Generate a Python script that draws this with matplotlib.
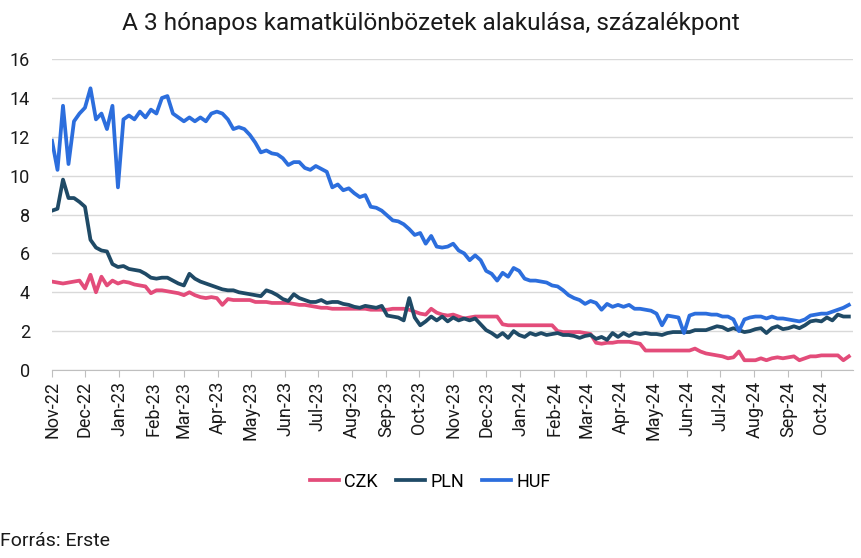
import matplotlib
matplotlib.use("Agg")
import matplotlib.pyplot as plt
import matplotlib.dates as mdates
import pandas as pd

# 5-day sampled readings, Nov 2022 - Oct 2024
dates = pd.date_range("2022-11-01", periods=146, freq="5D")

huf = [
    11.8, 10.3, 13.6, 10.6, 12.8, 13.2, 13.5, 14.5, 12.9, 13.2,
    12.4, 13.6, 9.4, 12.9, 13.1, 12.9, 13.3, 13.0, 13.4, 13.2,
    14.0, 14.1, 13.2, 13.0, 12.8, 13.0, 12.8, 13.0, 12.8, 13.2,
    13.3, 13.2, 12.9, 12.4, 12.5, 12.4, 12.1, 11.7, 11.2, 11.3,
    11.15, 11.1, 10.9, 10.55, 10.7, 10.7, 10.4, 10.3, 10.5, 10.35,
    10.2, 9.4, 9.55, 9.25, 9.35, 9.1, 8.9, 9.0, 8.4, 8.35,
    8.2, 7.95, 7.7, 7.65, 7.5, 7.25, 6.95, 7.05, 6.5, 6.9,
    6.35, 6.3, 6.35, 6.5, 6.15, 6.0, 5.65, 5.9, 5.65, 5.1,
    4.95, 4.6, 5.0, 4.8, 5.25, 5.1, 4.7, 4.6, 4.6, 4.55,
    4.5, 4.35, 4.3, 4.1, 3.85, 3.7, 3.6, 3.4, 3.55, 3.45,
    3.1, 3.4, 3.25, 3.35, 3.25, 3.35, 3.15, 3.15, 3.1, 3.05,
    2.9, 2.3, 2.8, 2.75, 2.7, 1.9, 2.8, 2.9, 2.9, 2.9,
    2.85, 2.85, 2.75, 2.75, 2.6, 2.0, 2.6, 2.7, 2.75, 2.75,
    2.65, 2.75, 2.65, 2.65, 2.6, 2.55, 2.5, 2.6, 2.8, 2.85,
    2.9, 2.9, 3.0, 3.1, 3.2, 3.35,
]

pln = [
    8.2, 8.3, 9.8, 8.85, 8.85, 8.65, 8.4, 6.7, 6.3, 6.15,
    6.1, 5.45, 5.3, 5.35, 5.2, 5.15, 5.1, 4.95, 4.75, 4.7,
    4.75, 4.75, 4.6, 4.45, 4.35, 4.95, 4.7, 4.55, 4.45, 4.35,
    4.25, 4.15, 4.1, 4.1, 4.0, 3.95, 3.9, 3.85, 3.8, 4.1,
    4.0, 3.85, 3.65, 3.55, 3.9, 3.7, 3.6, 3.5, 3.5, 3.6,
    3.45, 3.5, 3.5, 3.4, 3.35, 3.25, 3.2, 3.3, 3.25, 3.2,
    3.3, 2.8, 2.75, 2.7, 2.55, 3.7, 2.7, 2.3, 2.5, 2.75,
    2.55, 2.75, 2.5, 2.7, 2.55, 2.65, 2.55, 2.65, 2.35, 2.05,
    1.9, 1.7, 1.9, 1.65, 2.0, 1.8, 1.7, 1.9, 1.8, 1.9,
    1.8, 1.85, 1.9, 1.8, 1.8, 1.75, 1.65, 1.75, 1.8, 1.6,
    1.7, 1.55, 1.9, 1.7, 1.9, 1.75, 1.9, 1.85, 1.9, 1.85,
    1.85, 1.8, 1.9, 1.95, 1.95, 1.95, 1.95, 2.05, 2.05, 2.05,
    2.15, 2.25, 2.2, 2.05, 2.15, 2.05, 1.95, 2.0, 2.1, 2.15,
    1.9, 2.15, 2.25, 2.1, 2.15, 2.25, 2.15, 2.3, 2.5, 2.55,
    2.5, 2.7, 2.55, 2.85, 2.75, 2.75,
]

czk = [
    4.55, 4.5, 4.45, 4.5, 4.55, 4.6, 4.2, 4.9, 4.0, 4.8,
    4.35, 4.6, 4.45, 4.55, 4.5, 4.4, 4.35, 4.3, 3.95, 4.1,
    4.1, 4.05, 4.0, 3.95, 3.85, 4.0, 3.85, 3.75, 3.7, 3.75,
    3.7, 3.35, 3.65, 3.6, 3.6, 3.6, 3.6, 3.5, 3.5, 3.5,
    3.45, 3.45, 3.45, 3.45, 3.4, 3.35, 3.35, 3.3, 3.25, 3.2,
    3.2, 3.15, 3.15, 3.15, 3.15, 3.15, 3.15, 3.15, 3.1, 3.1,
    3.1, 3.1, 3.15, 3.15, 3.15, 3.1, 3.0, 2.9, 2.85, 3.15,
    2.95, 2.85, 2.8, 2.85, 2.75, 2.65, 2.7, 2.75, 2.75, 2.75,
    2.75, 2.75, 2.35, 2.3, 2.3, 2.3, 2.3, 2.3, 2.3, 2.3,
    2.3, 2.3, 2.0, 1.95, 1.95, 1.95, 1.95, 1.9, 1.85, 1.4,
    1.35, 1.4, 1.4, 1.45, 1.45, 1.45, 1.4, 1.35, 1.0, 1.0,
    1.0, 1.0, 1.0, 1.0, 1.0, 1.0, 1.0, 1.1, 0.95, 0.85,
    0.8, 0.75, 0.7, 0.6, 0.65, 0.95, 0.5, 0.5, 0.5, 0.6,
    0.5, 0.6, 0.65, 0.6, 0.65, 0.7, 0.5, 0.6, 0.7, 0.7,
    0.75, 0.75, 0.75, 0.75, 0.5, 0.7,
]

labels = ["CZK", "PLN", "HUF"]
colors = ["#E34C7A", "#1F4A66", "#2C6EDD"]

plt.rcParams["font.family"] = ["Roboto", "DejaVu Sans"]

fig = plt.figure(figsize=(8.61, 5.58), dpi=100)
ax = fig.add_axes([0.0604, 0.337, 0.9306, 0.557])

for vals, lab, col in zip([czk, pln, huf], labels, colors):
    ax.plot(dates, vals, color=col, lw=2.7, label=lab, solid_joinstyle="round")

ax.set_ylim(0, 16)
ax.set_yticks(range(0, 17, 2))
ax.set_xlim(pd.Timestamp("2022-11-01"), pd.Timestamp("2024-10-30"))
ax.xaxis.set_major_locator(mdates.MonthLocator())
ax.xaxis.set_major_formatter(mdates.DateFormatter("%b-%y"))
plt.setp(ax.get_xticklabels(), rotation=90)

ax.grid(axis="y", color="#D9D9D9", lw=1)
ax.set_axisbelow(True)
for s in ["top", "right", "left"]:
    ax.spines[s].set_visible(False)
ax.spines["bottom"].set_color("#BFBFBF")
ax.tick_params(axis="y", length=0, labelsize=13, colors="#1a1a1a", pad=16)
ax.tick_params(axis="x", length=5, color="#BFBFBF", labelsize=13,
               colors="#1a1a1a", pad=3)

fig.suptitle("A 3 hónapos kamatkülönbözetek alakulása, százalékpont",
             x=0.5, y=0.978, fontsize=17.6, color="#1a1a1a")

fig.legend(loc="center", bbox_to_anchor=(0.5, 0.137), ncol=3, frameon=False,
           fontsize=13, handlelength=1.6, handletextpad=0.3, columnspacing=1.0)

fig.text(0.0, 0.022, "Forrás: Erste", fontsize=14, color="#1a1a1a")

fig.savefig("out.png", dpi=100)
